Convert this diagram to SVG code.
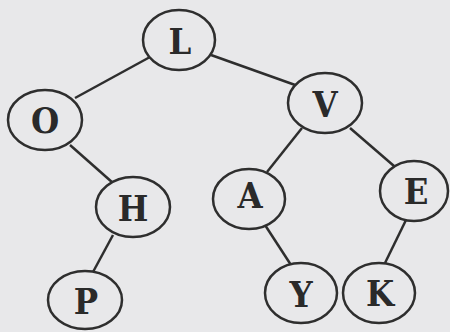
<svg xmlns="http://www.w3.org/2000/svg" width="450" height="332" viewBox="0 0 450 332">
<style>
.n ellipse{fill:#e8e8ea;stroke:#2e2e2e;stroke-width:2.5}
.n text{font-family:"DejaVu Serif Condensed","DejaVu Serif","Liberation Serif",serif;font-weight:bold;font-size:36px;fill:#2a2a2a;text-anchor:middle;dominant-baseline:central}
.e line{stroke:#2e2e2e;stroke-width:2.5}
</style>
<rect width="450" height="332" fill="#e8e8ea"/>
<g class="e" id="edges">
<line x1="150" y1="57" x2="75" y2="98"/>
<line x1="211" y1="55" x2="298" y2="86"/>
<line x1="70" y1="145" x2="113" y2="183"/>
<line x1="113" y1="235" x2="93" y2="272"/>
<line x1="302" y1="128" x2="267" y2="172"/>
<line x1="350" y1="128" x2="394" y2="166"/>
<line x1="265" y1="225" x2="291" y2="265"/>
<line x1="406" y1="220" x2="385" y2="263"/>
</g>
<g class="n" id="L"><ellipse cx="179" cy="40" rx="36" ry="30"/><text x="180" y="41">L</text></g>
<g class="n" id="O"><ellipse cx="45" cy="120" rx="37" ry="30"/><text x="45" y="120">O</text></g>
<g class="n" id="V"><ellipse cx="325" cy="103" rx="37" ry="30"/><text x="325" y="104">V</text></g>
<g class="n" id="H"><ellipse cx="133" cy="207" rx="37" ry="30"/><text x="133" y="208">H</text></g>
<g class="n" id="A"><ellipse cx="249" cy="199" rx="36" ry="30"/><text x="250" y="195">A</text></g>
<g class="n" id="E"><ellipse cx="414" cy="191" rx="34" ry="30"/><text x="416" y="191">E</text></g>
<g class="n" id="P"><ellipse cx="85" cy="300" rx="37" ry="29"/><text x="86" y="301">P</text></g>
<g class="n" id="Y"><ellipse cx="301" cy="293" rx="36" ry="30"/><text x="301" y="294">Y</text></g>
<g class="n" id="K"><ellipse cx="379" cy="293" rx="36" ry="30"/><text x="380" y="293">K</text></g>
</svg>
